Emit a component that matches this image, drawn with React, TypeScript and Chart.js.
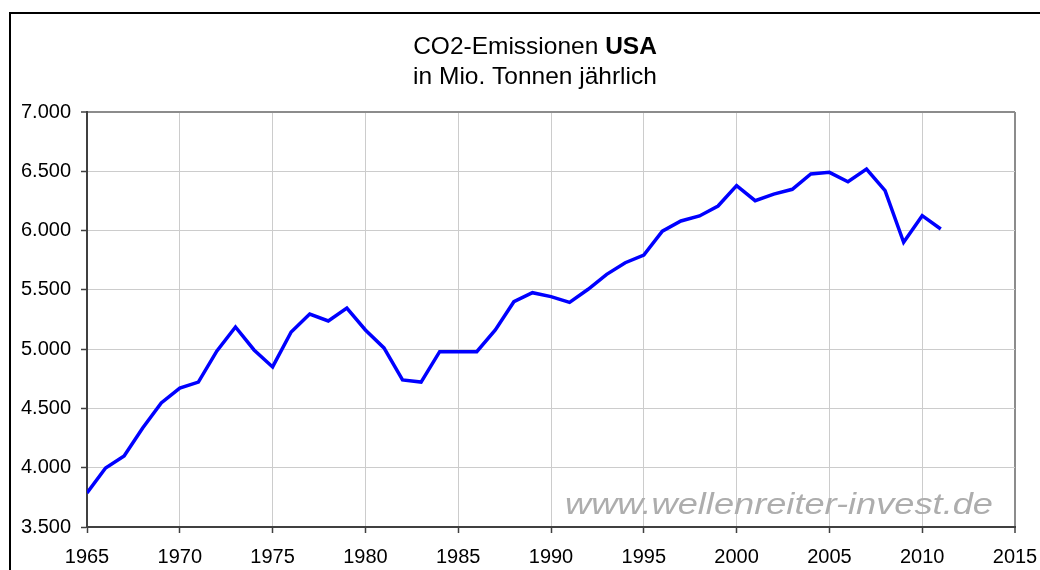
import React, { useEffect, useRef } from "react";
import { Chart, registerables } from "chart.js";

Chart.register(...registerables);

const years: number[] = [
  1965, 1966, 1967, 1968, 1969, 1970, 1971, 1972, 1973, 1974, 1975, 1976,
  1977, 1978, 1979, 1980, 1981, 1982, 1983, 1984, 1985, 1986, 1987, 1988,
  1989, 1990, 1991, 1992, 1993, 1994, 1995, 1996, 1997, 1998, 1999, 2000,
  2001, 2002, 2003, 2004, 2005, 2006, 2007, 2008, 2009, 2010, 2011,
];

const emissions: number[] = [
  3787, 3998, 4099, 4335, 4546, 4672, 4722, 4985, 5187, 4993, 4850, 5145,
  5296, 5238, 5347, 5162, 5010, 4740, 4722, 4979, 4979, 4979, 5162, 5400,
  5476, 5443, 5395, 5505, 5631, 5729, 5794, 5995, 6081, 6123, 6207, 6379,
  6252, 6308, 6348, 6477, 6491, 6412, 6519, 6336, 5901, 6126, 6013,
];

const titleLine1Regular = "CO2-Emissionen ";
const titleLine1Bold = "USA";
const titleLine2 = "in Mio. Tonnen jährlich";
const watermark = "www.wellenreiter-invest.de";

const FONT = "'Liberation Sans', Arial, sans-serif";

function formatDE(v: number): string {
  const s = Math.round(v).toString();
  return s.replace(/\B(?=(\d{3})+(?!\d))/g, ".");
}

const decorPlugin = {
  id: "decor",
  beforeDraw(chart: any) {
    const ctx = chart.ctx;
    ctx.save();
    ctx.fillStyle = "#ffffff";
    ctx.fillRect(0, 0, chart.width, chart.height);
    ctx.strokeStyle = "#000000";
    ctx.lineWidth = 2;
    ctx.strokeRect(10, 13, 1200, 800);
    // title
    ctx.fillStyle = "#000000";
    ctx.textBaseline = "alphabetic";
    ctx.textAlign = "left";
    const cx = 535;
    const size = 24.5;
    ctx.font = `${size}px ${FONT}`;
    const w1 = ctx.measureText(titleLine1Regular).width;
    ctx.font = `bold ${size}px ${FONT}`;
    const w2 = ctx.measureText(titleLine1Bold).width;
    const x = cx - (w1 + w2) / 2;
    ctx.font = `${size}px ${FONT}`;
    ctx.fillText(titleLine1Regular, x, 54);
    ctx.font = `bold ${size}px ${FONT}`;
    ctx.fillText(titleLine1Bold, x + w1, 54);
    ctx.font = `${size}px ${FONT}`;
    ctx.textAlign = "center";
    ctx.fillText(titleLine2, cx, 84);
    ctx.restore();
  },
  beforeDatasetsDraw(chart: any) {
    const ctx = chart.ctx;
    ctx.save();
    ctx.font = `italic 29px ${FONT}`;
    ctx.fillStyle = "#adadad";
    ctx.textBaseline = "alphabetic";
    ctx.textAlign = "left";
    const w = ctx.measureText(watermark).width;
    const target = 428;
    ctx.translate(565, 514);
    ctx.scale(target / w, 1);
    ctx.fillText(watermark, 0, 0);
    ctx.restore();
  },
};

export default function App() {
  const ref = useRef<HTMLCanvasElement | null>(null);

  useEffect(() => {
    if (!ref.current) return;
    const chart = new Chart(ref.current, {
      type: "line",
      data: {
        datasets: [
          {
            data: years.map((y, i) => ({ x: y, y: emissions[i] })),
            borderColor: "#0000ff",
            backgroundColor: "#0000ff",
            borderWidth: 3.5,
            pointRadius: 0,
            tension: 0,
            fill: false,
          },
        ],
      },
      options: {
        animation: false,
        responsive: false,
        layout: { padding: { left: 0, right: 25, top: 112, bottom: 0 } },
        plugins: {
          legend: { display: false },
          title: { display: false },
          tooltip: { enabled: false },
        },
        scales: {
          x: {
            type: "linear",
            min: 1965,
            max: 2015,
            ticks: {
              stepSize: 5,
              color: "#000000",
              font: { family: FONT, size: 20 },
              padding: 12,
              maxRotation: 0,
              callback: (v: any) => String(v),
            },
            grid: {
              color: (c: any) =>
                c.tick && c.tick.value === 2015 ? "#8c8c8c" : "#cccccc",
              lineWidth: (c: any) => (c.tick && c.tick.value === 2015 ? 2 : 1),
              tickColor: "#404040",
              tickLength: 6,
              tickWidth: 1.5,
            },
            border: { color: "#404040", width: 2 },
            afterFit: (s: any) => {
              s.height = 43;
              s.paddingLeft = 0;
              s.paddingRight = 0;
            },
          },
          y: {
            min: 3500,
            max: 7000,
            ticks: {
              stepSize: 500,
              color: "#000000",
              font: { family: FONT, size: 20 },
              padding: 10,
              callback: (v: any) => formatDE(Number(v)),
            },
            grid: {
              color: (c: any) =>
                c.tick && c.tick.value === 7000 ? "#8c8c8c" : "#cccccc",
              lineWidth: (c: any) => (c.tick && c.tick.value === 7000 ? 2 : 1),
              tickColor: "#404040",
              tickLength: 6,
              tickWidth: 1.5,
            },
            border: { color: "#404040", width: 2 },
            afterFit: (s: any) => {
              s.width = 87;
              s.paddingTop = 0;
              s.paddingBottom = 0;
            },
          },
        },
      },
      plugins: [decorPlugin],
    });
    return () => chart.destroy();
  }, []);

  return (
    <div
      style={{
        position: "fixed",
        left: 0,
        top: 0,
        width: 1040,
        height: 570,
        background: "#ffffff",
      }}
    >
      <canvas ref={ref} width={1040} height={570} />
    </div>
  );
}
